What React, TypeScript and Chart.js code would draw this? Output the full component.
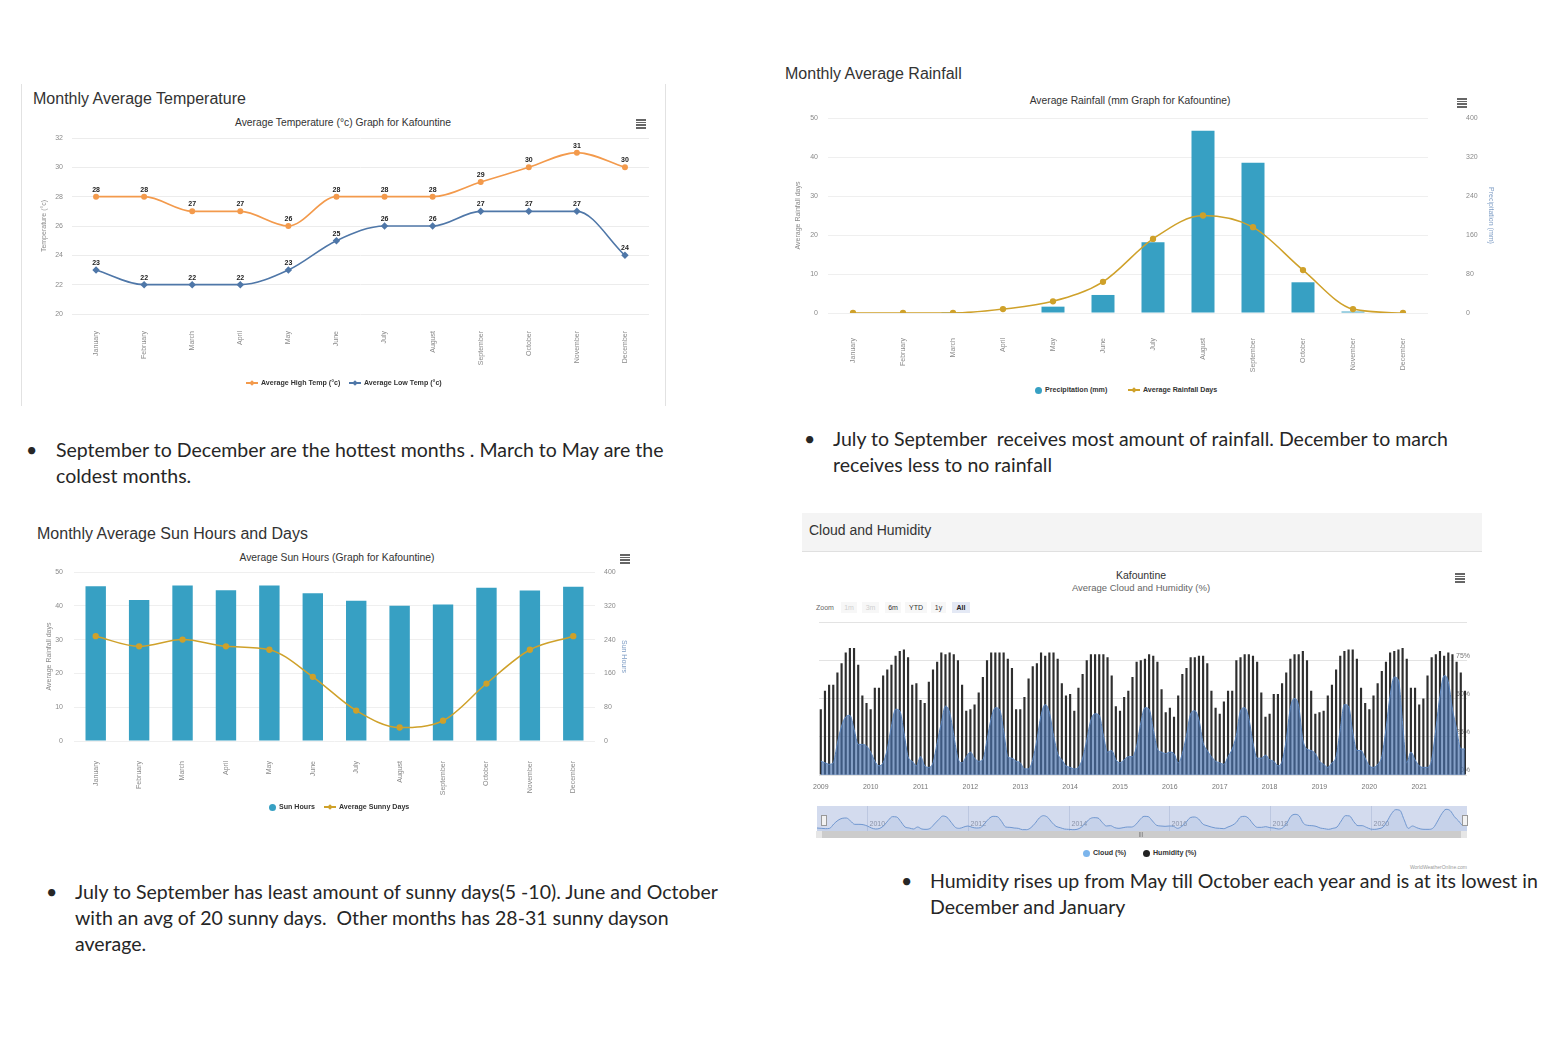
import React, { useEffect, useRef } from 'react';
import { Chart, registerables } from 'chart.js';
Chart.register(...registerables);

const SANS = '"Liberation Sans", Arial, sans-serif';
const BODY = 'Lato, "Open Sans", sans-serif';

// ---------- DATA ----------
const months = ['January', 'February', 'March', 'April', 'May', 'June', 'July', 'August', 'September', 'October', 'November', 'December'];

const highTemp = [28, 28, 27, 27, 26, 28, 28, 28, 29, 30, 31, 30];
const lowTemp = [23, 22, 22, 22, 23, 25, 26, 26, 27, 27, 27, 24];

const precipitation = [0, 0, 2, 0, 13, 37, 145, 374, 308, 63, 3, 0];
const rainfallDays = [0, 0, 0, 1, 3, 8, 19, 25, 22, 11, 1, 0];

const sunHours = [366, 334, 368, 357, 368, 350, 332, 320, 323, 363, 356, 365];
const sunnyDays = [31, 28, 30, 28, 27, 19, 9, 4, 6, 17, 27, 31];

const humYears = ['2009', '2010', '2011', '2012', '2013', '2014', '2015', '2016', '2017', '2018', '2019', '2020', '2021'];
const monthNums = ['01', '02', '03', '04', '05', '06', '07', '08', '09', '10', '11', '12'];

const humidity = [
  43, 55, 59, 59, 67, 73, 80, 83, 83, 72, 52, 47,
  43, 57, 57, 65, 69, 72, 78, 81, 82, 77, 59, 60,
  49, 47, 61, 69, 74, 80, 79, 80, 79, 75, 59, 42,
  43, 46, 54, 64, 75, 80, 80, 80, 80, 76, 70, 43,
  43, 51, 63, 71, 73, 80, 78, 80, 80, 76, 60, 52,
  53, 42, 57, 66, 75, 79, 79, 79, 79, 77, 65, 45,
  42, 51, 55, 64, 74, 75, 76, 79, 78, 74, 56, 41,
  44, 38, 52, 66, 70, 77, 77, 78, 78, 73, 55, 44,
  40, 48, 55, 55, 75, 77, 79, 79, 78, 74, 54, 38,
  40, 53, 53, 60, 67, 76, 79, 79, 81, 75, 55, 40,
  41, 42, 52, 59, 69, 78, 81, 82, 82, 76, 57, 47,
  43, 52, 60, 68, 74, 80, 81, 82, 83, 76, 57, 57,
  46, 50, 65, 77, 79, 81, 78, 80, 79, 74, 67, 55,
];

const cloud = [
  9, 8, 7, 8, 21, 32, 38, 39, 30, 20, 20, 19,
  15, 9, 6, 8, 17, 32, 43, 42, 28, 12, 9, 6,
  12, 6, 5, 8, 21, 34, 45, 41, 26, 11, 8, 12,
  15, 11, 9, 10, 23, 37, 44, 43, 29, 12, 11, 9,
  8, 4, 4, 10, 23, 39, 46, 41, 26, 14, 10, 6,
  5, 4, 5, 11, 23, 36, 40, 39, 26, 15, 16, 10,
  8, 10, 12, 12, 19, 34, 44, 43, 30, 17, 15, 14,
  15, 14, 8, 14, 26, 40, 42, 36, 21, 16, 12, 9,
  8, 7, 12, 17, 26, 42, 44, 37, 21, 11, 11, 13,
  10, 9, 6, 9, 23, 44, 50, 45, 23, 17, 16, 14,
  9, 7, 5, 8, 12, 30, 46, 45, 28, 16, 16, 11,
  6, 5, 7, 12, 30, 52, 64, 62, 34, 8, 15, 10,
  6, 5, 5, 10, 30, 52, 65, 61, 43, 30, 17, 17,
];

const humTicks = [0, 25, 50, 75];
const navYears = ['2010', '2012', '2014', '2016', '2018', '2020'];

const humLabels: string[] = [];
humYears.forEach((y) => monthNums.forEach((m) => humLabels.push(y + '-' + m)));

// ---------- COLOURS ----------
const ORANGE = '#f39a4c';
const BLUE = '#4f77a8';
const TEAL = '#37a0c3';
const GOLD = '#cfa12a';
const tickFont = { size: 7, family: SANS };
const TICK_COLOR = '#8a8a8a';

// ---------- PLUGINS ----------
const valueLabels = {
  id: 'valueLabels',
  afterDatasetsDraw(chart: any) {
    const ctx = chart.ctx;
    ctx.save();
    ctx.font = 'bold 7px ' + SANS;
    ctx.fillStyle = '#222';
    ctx.textAlign = 'center';
    ctx.textBaseline = 'middle';
    chart.data.datasets.forEach((ds: any, i: number) => {
      const meta = chart.getDatasetMeta(i);
      meta.data.forEach((pt: any, j: number) => {
        ctx.fillText(String(ds.data[j]), pt.x, pt.y - 7);
      });
    });
    ctx.restore();
  },
};

const pctLabels = {
  id: 'pctLabels',
  beforeDatasetsDraw(chart: any) {
    const ctx = chart.ctx;
    const y = chart.scales.y;
    ctx.save();
    ctx.font = '7px ' + SANS;
    ctx.fillStyle = '#777';
    ctx.textAlign = 'right';
    ctx.textBaseline = 'bottom';
    humTicks.forEach((v) => {
      ctx.fillText(v + '%', chart.chartArea.right + 3, y.getPixelForValue(v) - 1);
    });
    ctx.restore();
  },
};

const navDecor = {
  id: 'navDecor',
  beforeDraw(chart: any) {
    const ctx = chart.ctx;
    ctx.save();
    ctx.fillStyle = '#d3dbee';
    ctx.fillRect(0, 0, chart.width, chart.height);
    const x = chart.scales.x;
    ctx.strokeStyle = '#bcc7e0';
    ctx.lineWidth = 1;
    ctx.font = '7px ' + SANS;
    ctx.fillStyle = '#8a93a8';
    ctx.textBaseline = 'middle';
    navYears.forEach((yr) => {
      const idx = humLabels.indexOf(yr + '-01');
      const px = Math.round(x.getPixelForValue(idx)) + 0.5;
      ctx.beginPath();
      ctx.moveTo(px, 0);
      ctx.lineTo(px, chart.height);
      ctx.stroke();
      ctx.fillText(yr, px + 2, chart.height - 7);
    });
    ctx.restore();
  },
};

// ---------- CHART BUILDERS ----------
const base = (padding: any) => ({
  animation: false as const,
  responsive: true,
  maintainAspectRatio: false,
  layout: { padding },
  plugins: { legend: { display: false }, title: { display: false }, tooltip: { enabled: false } },
});

function makeTemp(c: HTMLCanvasElement) {
  return new Chart(c, {
    type: 'line',
    data: {
      labels: months,
      datasets: [
        { label: 'Average High Temp (°c)', data: highTemp, borderColor: ORANGE, backgroundColor: ORANGE, borderWidth: 1.6, cubicInterpolationMode: 'monotone', pointRadius: 2.2, pointStyle: 'circle' },
        { label: 'Average Low Temp (°c)', data: lowTemp, borderColor: BLUE, backgroundColor: BLUE, borderWidth: 1.6, cubicInterpolationMode: 'monotone', pointRadius: 2.6, pointStyle: 'rectRot' },
      ],
    },
    options: {
      ...base({ top: 28, right: 16, left: 0, bottom: 0 }),
      scales: {
        x: {
          offset: true,
          grid: { display: false },
          border: { display: false },
          ticks: { minRotation: 90, maxRotation: 90, autoSkip: false, font: tickFont, color: TICK_COLOR, padding: 9 },
          afterFit: (s: any) => { s.height = 91; },
        },
        y: {
          min: 20, max: 32,
          ticks: { stepSize: 2, font: tickFont, color: TICK_COLOR, padding: 9 },
          grid: { color: '#ececec', drawTicks: false },
          border: { display: false },
          title: { display: true, text: 'Temperature (°c)', font: tickFont, color: TICK_COLOR, padding: { top: 19, bottom: 0 } },
          afterFit: (s: any) => { s.width = 51; },
        },
      },
    } as any,
    plugins: [valueLabels],
  });
}

function makeComboChart(c: HTMLCanvasElement, cfg: any) {
  return new Chart(c, {
    type: 'bar',
    data: {
      labels: months,
      datasets: [
        { type: 'line', label: cfg.lineLabel, data: cfg.lineData, yAxisID: 'y', borderColor: GOLD, backgroundColor: GOLD, borderWidth: 1.5, cubicInterpolationMode: 'monotone', pointRadius: 2.4, pointStyle: 'circle', order: 0 },
        { type: 'bar', label: cfg.barLabel, data: cfg.barData, yAxisID: 'y1', backgroundColor: TEAL, barPercentage: cfg.barPct, categoryPercentage: 1, order: 1 },
      ],
    },
    options: {
      ...base({ top: cfg.top, right: 0, left: 0, bottom: 0 }),
      scales: {
        x: {
          grid: { display: false },
          border: { display: false },
          ticks: { minRotation: 90, maxRotation: 90, autoSkip: false, font: tickFont, color: TICK_COLOR, padding: cfg.xPad },
          afterFit: (s: any) => { s.height = cfg.xH; },
        },
        y: {
          position: 'left',
          min: 0, max: 50,
          ticks: { stepSize: 10, font: tickFont, color: TICK_COLOR, padding: cfg.lPad },
          grid: { color: '#efefef', drawTicks: false },
          border: { display: false },
          title: { display: true, text: cfg.lTitle, font: tickFont, color: TICK_COLOR, padding: { top: cfg.lTP, bottom: 0 } },
          afterFit: (s: any) => { s.width = cfg.lW; },
        },
        y1: {
          position: 'right',
          min: 0, max: 400,
          ticks: { stepSize: 80, font: tickFont, color: TICK_COLOR, padding: cfg.rPad },
          grid: { display: true, drawOnChartArea: false, drawTicks: true, tickLength: cfg.rTick, color: 'rgba(0,0,0,0)' },
          border: { display: false },
          title: { display: true, text: cfg.rTitle, font: tickFont, color: '#7d9cc4', padding: { top: cfg.rTP, bottom: 0 } },
          afterFit: (s: any) => { s.width = cfg.rW; },
        },
      },
    } as any,
  });
}

function makeRain(c: HTMLCanvasElement) {
  return makeComboChart(c, {
    lineLabel: 'Average Rainfall Days', lineData: rainfallDays,
    barLabel: 'Precipitation (mm)', barData: precipitation, barPct: 0.46,
    top: 28, xH: 67, xPad: 17, lW: 38, lPad: 10, rW: 72, rPad: 6, rTick: 32, lTP: 4, rTP: 5,
    lTitle: 'Average Rainfall days', rTitle: 'Precipitation (mm)',
  });
}

function makeSun(c: HTMLCanvasElement) {
  return makeComboChart(c, {
    lineLabel: 'Average Sunny Days', lineData: sunnyDays,
    barLabel: 'Sun Hours', barData: sunHours, barPct: 0.47,
    top: 27, xH: 74, xPad: 12, lW: 44, lPad: 11, rW: 45, rPad: 5, rTick: 4, lTP: 15, rTP: 12,
    lTitle: 'Average Rainfall days', rTitle: 'Sun Hours',
  });
}

function makeHumidity(c: HTMLCanvasElement) {
  return new Chart(c, {
    type: 'bar',
    data: {
      labels: humLabels,
      datasets: [
        { type: 'line', label: 'Cloud (%)', data: cloud, borderColor: '#5b86c0', borderWidth: 1, backgroundColor: 'rgba(72,112,172,0.66)', fill: 'origin', pointRadius: 0, cubicInterpolationMode: 'monotone', order: 0 },
        { type: 'bar', label: 'Humidity (%)', data: humidity, backgroundColor: '#2e2e2e', barPercentage: 0.52, categoryPercentage: 1, order: 1 },
      ],
    },
    options: {
      ...base({ top: 7, right: 8, left: 4, bottom: 0 }),
      scales: {
        x: {
          grid: { display: false },
          border: { display: false },
          ticks: {
            autoSkip: false, minRotation: 0, maxRotation: 0, font: tickFont, color: '#777', padding: 0,
            callback: (_v: any, i: number) => (i % 12 === 0 ? humLabels[i].slice(0, 4) : ''),
          },
          afterFit: (s: any) => { s.height = 20; },
        },
        y: {
          min: 0, max: 100,
          ticks: { stepSize: 25, display: false },
          grid: { color: '#e3e3e3', drawTicks: false },
          border: { display: false },
          afterFit: (s: any) => { s.width = 0; },
        },
      },
    } as any,
    plugins: [pctLabels],
  });
}

function makeNavigator(c: HTMLCanvasElement) {
  return new Chart(c, {
    type: 'line',
    data: {
      labels: humLabels,
      datasets: [
        { data: cloud, borderColor: '#7097d0', borderWidth: 1, backgroundColor: 'rgba(110,145,205,0.12)', fill: 'origin', pointRadius: 0, cubicInterpolationMode: 'monotone' },
      ],
    },
    options: {
      ...base(0),
      scales: { x: { display: false }, y: { display: false, min: 0, max: 75 } },
    } as any,
    plugins: [navDecor],
  });
}

// ---------- UI PIECES ----------
function ChartBox({ left, top, width, height, make }: any) {
  const ref = useRef<HTMLCanvasElement>(null);
  useEffect(() => {
    const ch = make(ref.current!);
    return () => ch.destroy();
  }, []);
  return (
    <div style={{ position: 'absolute', left, top, width, height }}>
      <canvas ref={ref} />
    </div>
  );
}

function Txt({ x, y, size, children, color = '#333', bold = false, family = SANS, align = 'left' }: any) {
  const lh = Math.round(size * 1.3);
  const style: any = {
    position: 'absolute', top: y - lh / 2, fontSize: size, lineHeight: lh + 'px', color,
    fontFamily: family, fontWeight: bold ? 'bold' : 'normal', whiteSpace: 'pre',
  };
  if (align === 'center') { style.left = x - 400; style.width = 800; style.textAlign = 'center'; }
  else if (align === 'right') { style.left = x - 800; style.width = 800; style.textAlign = 'right'; }
  else style.left = x;
  return <div style={style}>{children}</div>;
}

function Menu({ x, y }: any) {
  return (
    <div style={{ position: 'absolute', left: x - 5, top: y - 5 }}>
      {[0, 1, 2, 3].map((i) => (
        <div key={i} style={{ width: 10, height: 1.5, background: '#666', marginBottom: 1.2 }} />
      ))}
    </div>
  );
}

function Leg({ x, y, color, label, kind }: any) {
  return (
    <div style={{ position: 'absolute', left: x, top: y - 6, height: 12, display: 'flex', alignItems: 'center', whiteSpace: 'nowrap' }}>
      {kind === 'dot' ? (
        <span style={{ width: 7, height: 7, borderRadius: 4, background: color, display: 'inline-block' }} />
      ) : (
        <span style={{ position: 'relative', width: 12, height: 8, display: 'inline-block' }}>
          <span style={{ position: 'absolute', left: 0, top: 3.2, width: 12, height: 1.6, background: color }} />
          <span style={{ position: 'absolute', left: 4, top: 2, width: 4, height: 4, background: color, transform: 'rotate(45deg)' }} />
        </span>
      )}
      <span style={{ marginLeft: 3, fontSize: 7.1, fontWeight: 'bold', color: '#333', fontFamily: SANS }}>{label}</span>
    </div>
  );
}

function Bullet({ x, textX, lines, y }: any) {
  return (
    <>
      <Txt x={x} y={y} size={19.5} family={BODY} color="#262626">•</Txt>
      {lines.map((l: string, i: number) => (
        <Txt key={i} x={textX} y={y + i * 26} size={19.5} family={BODY} color="#262626">{l}</Txt>
      ))}
    </>
  );
}

function ZoomBtn({ x, w, label, color, bg, bold }: any) {
  return (
    <div style={{ position: 'absolute', left: x, top: 602, width: w, height: 11, background: bg, color, fontSize: 7, lineHeight: '11px', textAlign: 'center', fontFamily: SANS, fontWeight: bold ? 'bold' : 'normal' }}>
      {label}
    </div>
  );
}

export default function App() {
  return (
    <div style={{ position: 'absolute', left: 0, top: 0, width: 1550, height: 1050, overflow: 'hidden', background: '#fff' }}>
      {/* Temperature panel */}
      <div style={{ position: 'absolute', left: 21, top: 84, width: 643, height: 322, borderLeft: '1px solid #e2e2e2', borderRight: '1px solid #e2e2e2' }} />
      <Txt x={33} y={98} size={16}>Monthly Average Temperature</Txt>
      <Txt x={343} y={122} size={10.3} align="center">Average Temperature (°c) Graph for Kafountine</Txt>
      <Menu x={641} y={124} />
      <ChartBox left={21} top={110} width={644} height={295} make={makeTemp} />
      <Leg x={246} y={383} color={ORANGE} label="Average High Temp (°c)" />
      <Leg x={349} y={383} color={BLUE} label="Average Low Temp (°c)" />

      {/* Rainfall panel */}
      <Txt x={785} y={73} size={16}>Monthly Average Rainfall</Txt>
      <Txt x={1130} y={100} size={10.3} align="center">Average Rainfall (mm Graph for Kafountine)</Txt>
      <Menu x={1462} y={103} />
      <ChartBox left={790} top={90} width={710} height={290} make={makeRain} />
      <Leg x={1035} y={390} color={TEAL} kind="dot" label="Precipitation (mm)" />
      <Leg x={1128} y={390} color={GOLD} label="Average Rainfall Days" />

      {/* Sun panel */}
      <Txt x={37} y={533} size={16}>Monthly Average Sun Hours and Days</Txt>
      <Txt x={337} y={557} size={10.3} align="center">Average Sun Hours (Graph for Kafountine)</Txt>
      <Menu x={625} y={559} />
      <ChartBox left={30} top={545} width={610} height={270} make={makeSun} />
      <Leg x={269} y={807} color={TEAL} kind="dot" label="Sun Hours" />
      <Leg x={324} y={807} color={GOLD} label="Average Sunny Days" />

      {/* Cloud and humidity panel */}
      <div style={{ position: 'absolute', left: 802, top: 513, width: 680, height: 38, background: '#f4f4f4', borderBottom: '1px solid #e0e0e0' }} />
      <Txt x={809} y={530} size={14}>Cloud and Humidity</Txt>
      <Txt x={1141} y={575} size={10.5} align="center">Kafountine</Txt>
      <Txt x={1141} y={588} size={9.5} align="center" color="#666">Average Cloud and Humidity (%)</Txt>
      <Menu x={1460} y={578} />
      <Txt x={816} y={607} size={7} color="#666">Zoom</Txt>
      <ZoomBtn x={841} w={16} label="1m" color="#cfcfcf" bg="#f7f7f7" />
      <ZoomBtn x={862} w={17} label="3m" color="#cfcfcf" bg="#f7f7f7" />
      <ZoomBtn x={885} w={16} label="6m" color="#333" bg="#f7f7f7" />
      <ZoomBtn x={905} w={22} label="YTD" color="#333" bg="#f7f7f7" />
      <ZoomBtn x={931} w={15} label="1y" color="#333" bg="#f7f7f7" />
      <ZoomBtn x={952} w={18} label="All" color="#222" bg="#e4e9f5" bold />
      <ChartBox left={813} top={615} width={662} height={180} make={makeHumidity} />
      <ChartBox left={817} top={806} width={650} height={25} make={makeNavigator} />
      <div style={{ position: 'absolute', left: 821, top: 815, width: 4, height: 9, background: '#f2f2f2', border: '1px solid #999' }} />
      <div style={{ position: 'absolute', left: 1462, top: 815, width: 4, height: 9, background: '#f2f2f2', border: '1px solid #999' }} />
      <div style={{ position: 'absolute', left: 816, top: 831, width: 651, height: 7, background: '#cccccc' }} />
      <div style={{ position: 'absolute', left: 816, top: 831, width: 6, height: 7, background: '#e6e6e6' }} />
      <div style={{ position: 'absolute', left: 1461, top: 831, width: 6, height: 7, background: '#e6e6e6' }} />
      <Txt x={1141} y={834.5} size={5} align="center" color="#555">|||</Txt>
      <Leg x={1083} y={853} color="#7cb5ec" kind="dot" label="Cloud (%)" />
      <Leg x={1143} y={853} color="#222" kind="dot" label="Humidity (%)" />
      <Txt x={1467} y={867} size={5} align="right" color="#999">WorldWeatherOnline.com</Txt>

      {/* Notes */}
      <Bullet x={26} textX={56} y={449} lines={['September to December are the hottest months . March to May are the', 'coldest months.']} />
      <Bullet x={804} textX={833} y={438} lines={['July to September  receives most amount of rainfall. December to march', 'receives less to no rainfall']} />
      <Bullet x={46} textX={75} y={891} lines={['July to September has least amount of sunny days(5 -10). June and October', 'with an avg of 20 sunny days.  Other months has 28-31 sunny dayson', 'average.']} />
      <Bullet x={901} textX={930} y={880} lines={['Humidity rises up from May till October each year and is at its lowest in', 'December and January']} />
    </div>
  );
}
